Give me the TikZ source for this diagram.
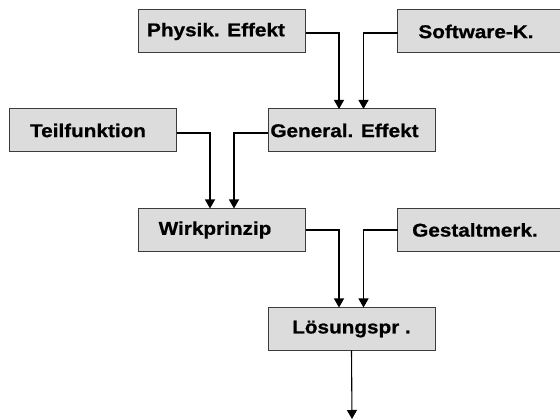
\documentclass[tikz,border=0pt]{standalone}
\usepackage{fontspec}
\newfontfamily\boxfont{Liberation Sans Bold}[FakeStretch=1.12,FakeBold=0.8]
\usetikzlibrary{arrows.meta}
\definecolor{boxfill}{HTML}{DCDCDC}
\definecolor{boxline}{HTML}{3C3C3C}
\begin{document}
\begin{tikzpicture}[x=1pt,y=-1pt,
  blk/.style={draw=boxline, fill=boxfill, line width=1pt, minimum width=167pt, minimum height=43pt,
    inner sep=0pt, outer sep=0pt, font=\boxfont\fontsize{18.5}{20}\selectfont},
  conn/.style={line width=1.1pt, -{Triangle[width=10pt,length=9pt]}}]
\clip (0,0) rectangle (560,419);
\fill[white] (0,0) rectangle (560,419);
\node[blk] (phys) at (222,31.5) {\hbox{Physik. Effekt\hspace{12pt}}};
\node[blk] (soft) at (481,31.5) {\hbox{Software-K.\hspace{10pt}}};
\node[blk] (teil) at (93,130.5) {\hbox{Teilfunktion\hspace{10pt}}};
\node[blk] (gen) at (351.5,130.5) {\hbox{General. Effekt\hspace{14pt}}};
\node[blk] (wirk) at (222,230) {\hbox{Wirkprinzip\hspace{14pt}}};
\node[blk] (gest) at (481,230) {\hbox{Gestaltmerk.\hspace{12pt}}};
\node[blk] (loes) at (351.5,329) {Lösungspr .};
\coordinate (out) at (352,419);
\draw[conn] ([yshift=-1.5pt]phys.east) -| ([xshift=-12.5pt]gen.north);
\draw[conn] ([yshift=-1.5pt]soft.west) -| ([xshift=12pt]gen.north);
\draw[conn] ([yshift=-2.5pt]teil.east) -| ([xshift=-12pt]wirk.north);
\draw[conn] ([yshift=-2.5pt]gen.west) -| ([xshift=12pt]wirk.north);
\draw[conn] (wirk.east) -| ([xshift=-12.5pt]loes.north);
\draw[conn] (gest.west) -| ([xshift=12pt]loes.north);
\draw[conn] (loes.south) -- (out);
\end{tikzpicture}
\end{document}
